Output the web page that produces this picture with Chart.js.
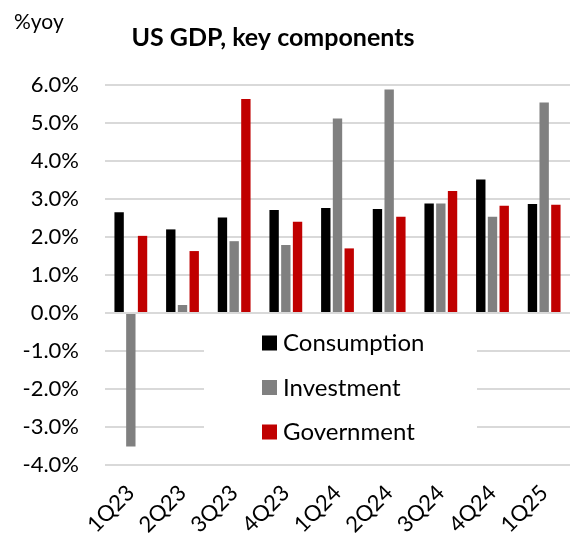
<!DOCTYPE html>
<html>
<head>
<meta charset="utf-8">
<script src="https://cdn.jsdelivr.net/npm/chart.js@4"></script>
<style>
  body { margin: 0; background: #fff; }
  #wrap { position: relative; width: 570px; height: 537px; }
</style>
</head>
<body>
<div id="wrap"><canvas id="myChart" width="570" height="537"></canvas></div>
<script>
'use strict';

let quarters = ['1Q23', '2Q23', '3Q23', '4Q23', '1Q24', '2Q24', '3Q24', '4Q24', '1Q25'];
let consumption = [2.65, 2.20, 2.51, 2.71, 2.76, 2.74, 2.88, 3.51, 2.87];
let investment = [-3.51, 0.21, 1.89, 1.79, 5.12, 5.88, 2.88, 2.53, 5.54];
let government = [2.03, 1.63, 5.63, 2.40, 1.70, 2.53, 3.21, 2.82, 2.85];
let seriesNames = ['Consumption', 'Investment', 'Government'];
let seriesColors = ['#000000', '#808080', '#c00000'];
let yMin = -4;
let yMax = 6;

const fontName = 'Lato, Carlito, "Open Sans", sans-serif';

// title, unit label and the legend box that sits inside the plot
const extras = {
    id: 'extras',
    beforeDatasetsDraw(chart) {
        const ctx = chart.ctx;
        ctx.save();
        // white box hides the gridlines behind the legend
        ctx.fillStyle = '#ffffff';
        ctx.fillRect(204, 322, 273, 130);
        ctx.restore();
    },
    afterDraw(chart) {
        const ctx = chart.ctx;
        ctx.save();
        ctx.fillStyle = '#000';
        ctx.textBaseline = 'middle';
        ctx.font = 'bold 25px ' + fontName;
        ctx.textAlign = 'center';
        ctx.fillText('US GDP, key components', 273, 38);
        ctx.font = '21px ' + fontName;
        ctx.textAlign = 'left';
        ctx.fillText('%yoy', 14, 22);

        let rows = [342.5, 387, 431.5];
        ctx.font = '24px ' + fontName;
        for (let i = 0; i < seriesNames.length; i++) {
            ctx.fillStyle = seriesColors[i];
            ctx.fillRect(262, rows[i] - 7, 15, 15);
            ctx.fillStyle = '#000';
            ctx.fillText(seriesNames[i], 283, rows[i] + 1);
        }
        ctx.restore();
    }
};

let datasets = [consumption, investment, government].map(function (vals, i) {
    return {
        label: seriesNames[i],
        data: vals,
        backgroundColor: seriesColors[i],
        borderWidth: 0,
        categoryPercentage: 0.68,
        barPercentage: 0.8
    };
});

var ctx = document.getElementById('myChart').getContext('2d');
var myChart = new Chart(ctx, {
    type: 'bar',
    data: {
        labels: quarters,
        datasets: datasets
    },
    options: {
        responsive: false,
        animation: false,
        layout: {
            padding: { top: 85, right: 0, left: 0, bottom: 0 }
        },
        plugins: {
            legend: { display: false },
            tooltip: { enabled: false }
        },
        scales: {
            x: {
                grid: { display: false, drawTicks: false },
                border: { display: false },
                afterFit: function (scale) {
                    scale.height = 72;
                    scale.paddingLeft = 0;
                    scale.paddingRight = 0;
                },
                ticks: {
                    color: '#000',
                    minRotation: 45,
                    maxRotation: 45,
                    padding: 15,
                    font: { family: fontName, size: 22 }
                }
            },
            y: {
                min: yMin,
                max: yMax,
                afterFit: function (scale) { scale.width = 105; },
                grid: { color: '#d9d9d9', lineWidth: 2, drawTicks: false },
                border: { display: false },
                ticks: {
                    stepSize: 1,
                    color: '#000',
                    padding: 26,
                    font: { family: fontName, size: 22 },
                    callback: function (v) { return v.toFixed(1) + '%'; }
                }
            }
        }
    },
    plugins: [extras]
});
</script>
</body>
</html>
